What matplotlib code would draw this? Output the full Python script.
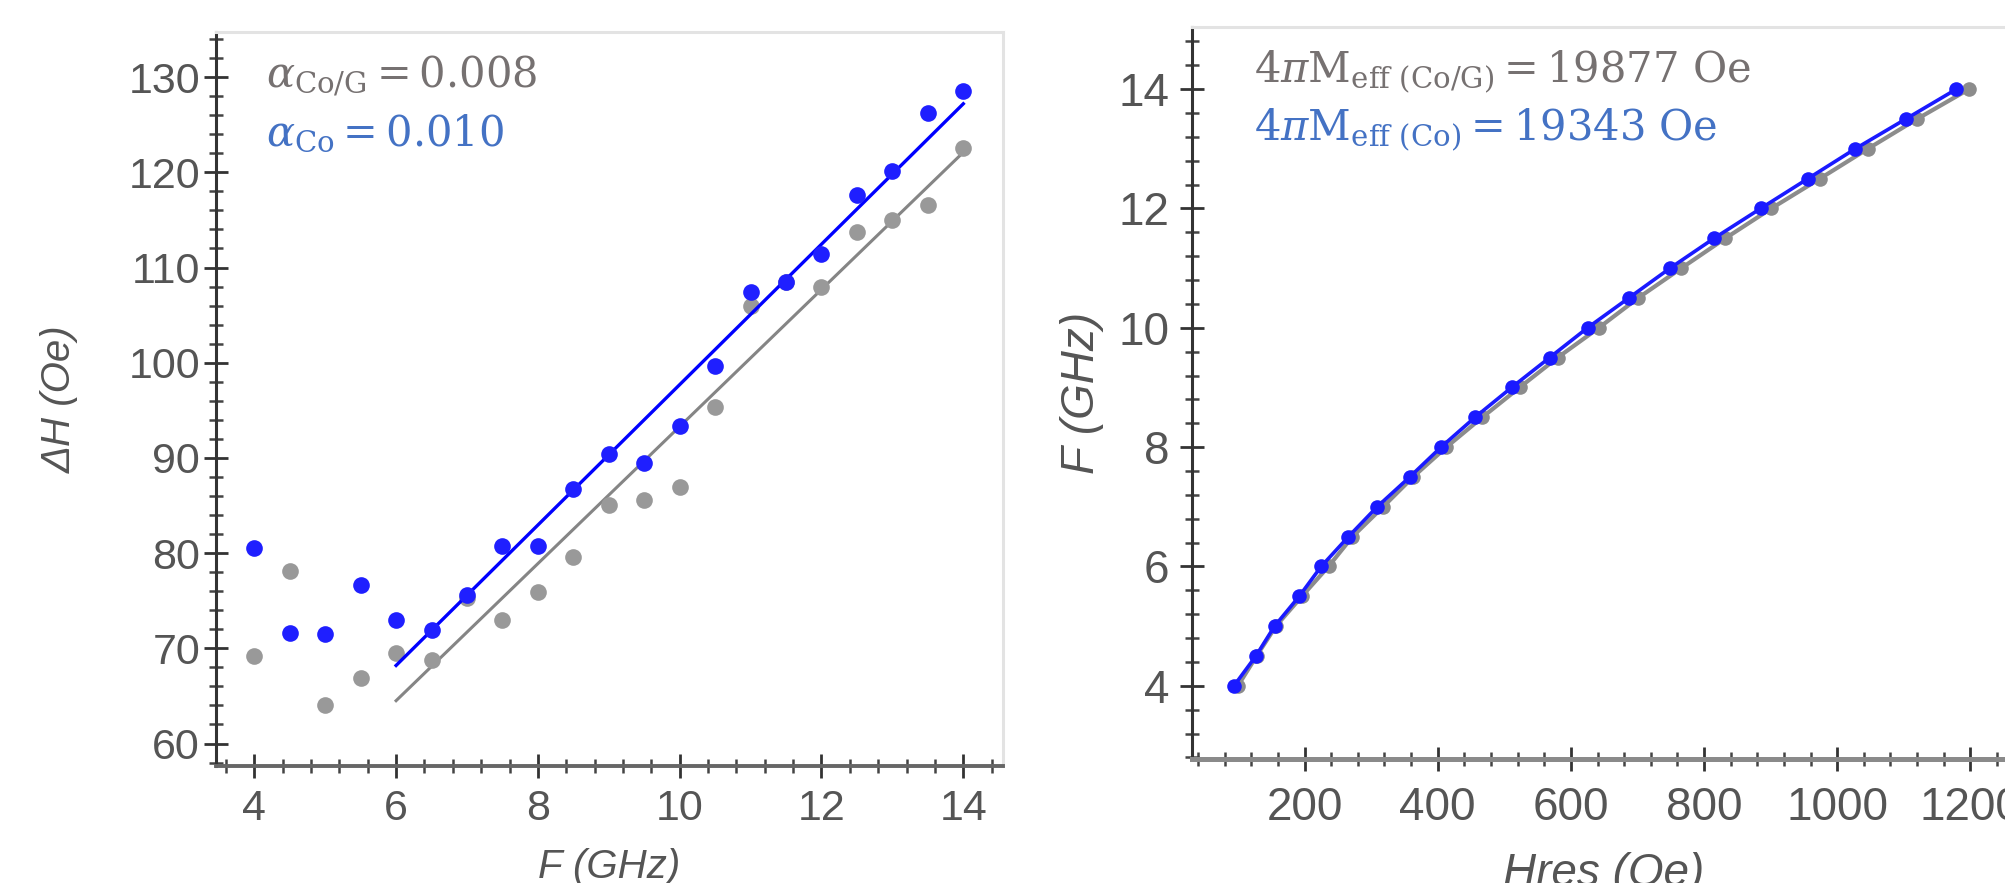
import matplotlib
matplotlib.use("Agg")
import matplotlib.pyplot as plt
from matplotlib.ticker import MultipleLocator

# ---------------- data ----------------
# Left panel: linewidth vs frequency
freq_left = [4, 4.5, 5, 5.5, 6, 6.5, 7, 7.5, 8, 8.5, 9, 9.5, 10, 10.5, 11, 11.5, 12, 12.5, 13, 13.5, 14]
dH_co = [80.5, 71.6, 71.5, 76.7, 73.0, 71.9, 75.6, 80.8, 80.8, 86.7, 90.4, 89.5, 93.4, 99.7,
         107.4, 108.5, 111.4, 117.6, 120.1, 126.2, 128.5]
dH_cog = [69.2, 78.1, 64.1, 66.9, 69.5, 68.8, 75.3, 73.0, 75.9, 79.6, 85.1, 85.6, 86.9, 95.4,
          106.0, 108.5, 108.0, 113.7, 115.0, 116.6, 122.6]
fit_f = [6, 14]
fit_co = [68.2, 127.2]
fit_cog = [64.5, 122.1]

# Right panel: frequency vs resonance field
freq_right = [4, 4.5, 5, 5.5, 6, 6.5, 7, 7.5, 8, 8.5, 9, 9.5, 10, 10.5, 11, 11.5, 12, 12.5, 13, 13.5, 14]
hres_co = [94, 127, 155, 192, 225, 266, 309, 358, 405, 456, 511, 568, 625, 687, 749, 815, 885,
           956, 1027, 1103, 1179]
hres_cog = [100, 128, 157, 196, 236, 272, 318, 363, 413, 467, 523, 580, 642, 701, 766, 832, 901,
            974, 1046, 1120, 1198]

label_alpha_cog = r'$\alpha_{\mathrm{Co/G}} = \mathrm{0.008}$'
label_alpha_co = r'$\alpha_{\mathrm{Co}} = \mathrm{0.010}$'
label_m_cog = r'$\mathrm{4}\pi\mathrm{M}_{\mathrm{eff\ (Co/G)}} = \mathrm{19877\ Oe}$'
label_m_co = r'$\mathrm{4}\pi\mathrm{M}_{\mathrm{eff\ (Co)}} = \mathrm{19343\ Oe}$'

# ---------------- style ----------------
plt.rcParams['font.family'] = ['Liberation Sans', 'DejaVu Sans']
plt.rcParams['mathtext.fontset'] = 'dejavuserif'

W, H = 2006, 883
fig = plt.figure(figsize=(W / 100, H / 100), dpi=100)
fig.patch.set_facecolor('white')

TICK_C = '#555555'
ANN_GRAY = '#767171'
ANN_BLUE = '#4472c4'
BLUE = '#1f1fff'
GRAY = '#999999'


def box(l, r, t, b):
    return [l / W, 1 - b / H, (r - l) / W, (b - t) / H]


def style_axes(ax, label_size, bottom_color):
    for s in ('top', 'right'):
        ax.spines[s].set_color('#e3e3e3')
        ax.spines[s].set_linewidth(2.2)
    ax.spines['left'].set_color('#333333')
    ax.spines['left'].set_linewidth(2.2)
    ax.spines['bottom'].set_color(bottom_color)
    ax.spines['bottom'].set_linewidth(2.8)
    ax.tick_params(which='major', direction='inout', length=17, width=2.0, color='#333333',
                   labelsize=label_size, labelcolor=TICK_C, pad=3)
    ax.tick_params(which='minor', direction='inout', length=10, width=1.8, color='#444444')
    ax.tick_params(top=False, right=False, which='both')


# ---------------- left panel ----------------
ax1 = fig.add_axes(box(216, 1003, 32, 766))
ax1.plot(fit_f, fit_cog, color='#858585', lw=2.2, zorder=2)
ax1.plot(fit_f, fit_co, color='#0000ff', lw=2.4, zorder=3)
ax1.plot(freq_left, dH_cog, 'o', color=GRAY, ms=12, mec='none', zorder=2)
ax1.plot(freq_left, dH_co, 'o', color=BLUE, ms=12, mec='none', zorder=4)
ax1.set_xlim(3.46, 14.56)
ax1.set_ylim(57.64, 134.74)
ax1.xaxis.set_major_locator(MultipleLocator(2))
ax1.xaxis.set_minor_locator(MultipleLocator(0.4))
ax1.yaxis.set_major_locator(MultipleLocator(10))
ax1.yaxis.set_minor_locator(MultipleLocator(2))
style_axes(ax1, 31, '#666666')
ax1.tick_params(axis='x', pad=8)
ax1.set_xlabel('F (GHz)', fontsize=29, color=TICK_C, style='italic', labelpad=14)
ax1.set_ylabel('ΔH (Oe)', fontsize=29, color=TICK_C, style='italic', labelpad=36)
ax1.text(0.064, 0.925, label_alpha_cog, transform=ax1.transAxes, fontsize=30,
         color=ANN_GRAY, va='baseline', ha='left')
ax1.text(0.064, 0.846, label_alpha_co, transform=ax1.transAxes, fontsize=30,
         color=ANN_BLUE, va='baseline', ha='left')

# ---------------- right panel ----------------
ax2 = fig.add_axes(box(1192, 2015, 26.5, 758.6))
ax2.plot(hres_cog, freq_right, '-o', color='#8c8c8c', lw=3.0, ms=10.5, mec='none', zorder=2)
ax2.plot(hres_co, freq_right, '-o', color='#1a1aff', lw=2.6, ms=10.5, mec='none', zorder=3)
ax2.set_xlim(31, 1267)
ax2.set_ylim(2.78, 15.05)
ax2.xaxis.set_major_locator(MultipleLocator(200))
ax2.xaxis.set_minor_locator(MultipleLocator(40))
ax2.yaxis.set_major_locator(MultipleLocator(2))
ax2.yaxis.set_minor_locator(MultipleLocator(0.4))
style_axes(ax2, 33, '#8a8a8a')
ax2.spines['bottom'].set_linewidth(3.6)
ax2.tick_params(axis='x', pad=11)
ax2.tick_params(axis='y', pad=8)
ax2.set_xlabel('Hres (Oe)', fontsize=33, color=TICK_C, style='italic', labelpad=16)
ax2.set_ylabel('F (GHz)', fontsize=33, color=TICK_C, style='italic', labelpad=10)
ax2.text(0.075, 0.9228, label_m_cog, transform=ax2.transAxes, fontsize=30,
         color=ANN_GRAY, va='baseline', ha='left')
ax2.text(0.075, 0.8436, label_m_co, transform=ax2.transAxes, fontsize=30,
         color=ANN_BLUE, va='baseline', ha='left')

fig.savefig('out.png', dpi=100, facecolor='white')
